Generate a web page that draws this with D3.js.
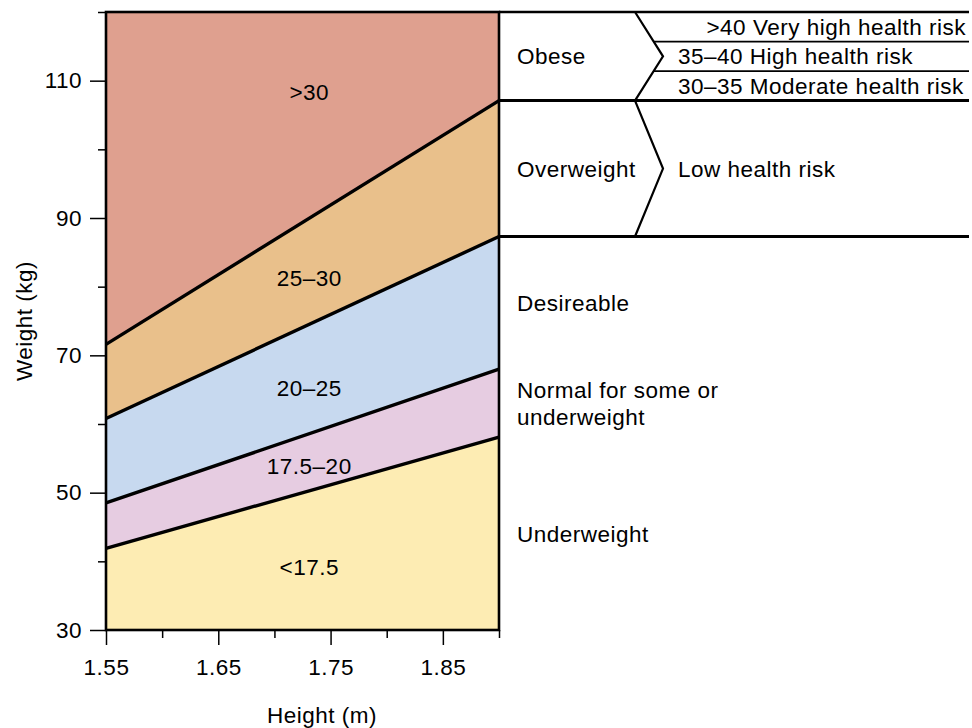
<!DOCTYPE html>
<html>
<head>
<meta charset="utf-8">
<script src="https://cdn.jsdelivr.net/npm/d3@7"></script>
<style>
  html, body { margin: 0; padding: 0; background: #fff; }
  svg { display: block; font-family: "Liberation Sans", Arial, Helvetica, sans-serif; }
  svg text { letter-spacing: 0.5px; }
</style>
</head>
<body>
<svg id="chart" width="972" height="728"></svg>
<script>
// Height / weight chart with BMI bands
const heightDomain = [1.55, 1.90];
const weightDomain = [30, 120];

const xMajorTicks = [1.55, 1.65, 1.75, 1.85];
const xMinorTicks = [1.60, 1.70, 1.80, 1.90];
const yMajorTicks = [30, 50, 70, 90, 110];
const yMinorTicks = [40, 60, 80, 100, 120];

// BMI cut-offs and the weight (kg) each line passes through at the two ends of the height range
const cutoffBMI   = [17.5, 20, 25, 30];
const cutoffAtMin = [41.9, 48.5, 60.8, 71.6];
const cutoffAtMax = [58.1, 68.0, 87.3, 107.1];

// Bands from lightest to heaviest
const bandLabels = ["<17.5", "17.5\u201320", "20\u201325", "25\u201330", ">30"];
const bandColors = ["#fdecb3", "#e6cce1", "#c7d9ef", "#e9c08b", "#dfa08f"];
const bandLabelKg = [39.2, 53.9, 65.3, 81.3, 108.3];

// Descriptions for each band, and health risk for the heavier ones
const categories = [["Underweight"], ["Normal for some or", "underweight"], ["Desireable"], ["Overweight"], ["Obese"]];
const overweightRisk = "Low health risk";
const obeseRisk = [">40 Very high health risk", "35\u201340 High health risk", "30\u201335 Moderate health risk"];

const svg = d3.select("#chart");
const plot = { left: 106, right: 499, top: 12, bottom: 630 };
const tableRight = 969, chevronX = 635, chevronTip = 663, catTextX = 517, riskTextX = 678;
const fontSize = 22.5;

const x = d3.scaleLinear().domain(heightDomain).range([plot.left, plot.right]);
const y = d3.scaleLinear().domain(weightDomain).range([plot.bottom, plot.top]);

// Lower / upper edges of each band at both ends
const edgesMin = [weightDomain[0], ...cutoffAtMin, weightDomain[1]];
const edgesMax = [weightDomain[0], ...cutoffAtMax, weightDomain[1]];

const bands = bandLabels.map((label, i) => ({
  label,
  color: bandColors[i],
  pts: [
    [heightDomain[0], edgesMin[i]],
    [heightDomain[1], edgesMax[i]],
    [heightDomain[1], edgesMax[i + 1]],
    [heightDomain[0], edgesMin[i + 1]]
  ]
}));

const line = d3.line().x(d => x(d[0])).y(d => y(d[1]));

svg.append("g").selectAll("path")
  .data(bands)
  .join("path")
  .attr("d", d => line(d.pts) + "Z")
  .attr("fill", d => d.color)
  .attr("stroke", "none");

// BMI cut-off lines
svg.append("g").selectAll("path")
  .data(cutoffBMI.map((b, i) => [[heightDomain[0], cutoffAtMin[i]], [heightDomain[1], cutoffAtMax[i]]]))
  .join("path")
  .attr("d", line)
  .attr("fill", "none")
  .attr("stroke", "#000")
  .attr("stroke-width", 3.4);

// Band labels
const labelHeight = 1.731;
svg.append("g").selectAll("text")
  .data(bands)
  .join("text")
  .attr("x", x(labelHeight))
  .attr("y", (d, i) => y(bandLabelKg[i]) + fontSize * 0.36)
  .attr("text-anchor", "middle")
  .attr("font-size", fontSize)
  .attr("fill", "#000")
  .text(d => d.label);

// Plot frame
svg.append("rect")
  .attr("x", plot.left).attr("y", plot.top)
  .attr("width", plot.right - plot.left).attr("height", plot.bottom - plot.top)
  .attr("fill", "none").attr("stroke", "#000").attr("stroke-width", 2.6);

// Axes
function styleAxis(g) {
  g.select(".domain").remove();
  g.selectAll(".tick line").attr("stroke", "#000").attr("stroke-width", 1.5);
  g.selectAll(".tick text").attr("font-size", fontSize).attr("fill", "#000")
    .attr("font-family", "Liberation Sans, Arial, sans-serif");
}

svg.append("g")
  .attr("transform", `translate(0,${plot.bottom})`)
  .call(d3.axisBottom(x).tickValues(xMajorTicks).tickSize(15).tickPadding(14).tickFormat(d3.format(".2f")))
  .call(styleAxis);
svg.append("g")
  .attr("transform", `translate(0,${plot.bottom})`)
  .call(d3.axisBottom(x).tickValues(xMinorTicks).tickSize(8).tickFormat(""))
  .call(styleAxis);

svg.append("g")
  .attr("transform", `translate(${plot.left},0)`)
  .call(d3.axisLeft(y).tickValues(yMajorTicks).tickSize(16).tickPadding(8).tickFormat(d3.format("d")))
  .call(styleAxis);
svg.append("g")
  .attr("transform", `translate(${plot.left},0)`)
  .call(d3.axisLeft(y).tickValues(yMinorTicks).tickSize(8).tickFormat(""))
  .call(styleAxis);

// Axis titles
svg.append("text")
  .attr("x", 322).attr("y", 723)
  .attr("text-anchor", "middle").attr("font-size", fontSize)
  .text("Height (m)");
svg.append("text")
  .attr("transform", `translate(32,${321}) rotate(-90)`)
  .attr("text-anchor", "middle").attr("font-size", fontSize)
  .text("Weight (kg)");

// Right-hand table
const table = svg.append("g");
const yTop = y(weightDomain[1]);
const yObese = y(cutoffAtMax[3]);
const yOver = y(cutoffAtMax[2]);

table.append("line")
  .attr("x1", plot.right).attr("x2", tableRight)
  .attr("y1", yTop).attr("y2", yTop)
  .attr("stroke", "#000").attr("stroke-width", 2.3);
[yObese, yOver].forEach(v => {
  table.append("line")
    .attr("x1", plot.right).attr("x2", tableRight)
    .attr("y1", v).attr("y2", v)
    .attr("stroke", "#000").attr("stroke-width", 3);
});

// Chevrons joining each category to its risk column
[[yTop, yObese], [yObese, yOver]].forEach(([a, b]) => {
  table.append("path")
    .attr("d", `M${chevronX},${a}L${chevronTip},${(a + b) / 2}L${chevronX},${b}`)
    .attr("fill", "none").attr("stroke", "#000").attr("stroke-width", 2.2);
});

// Obese sub-rows split into thirds
const obeseStep = (weightDomain[1] - cutoffAtMax[3]) / 3;
const subEdges = [cutoffAtMax[3] + obeseStep, cutoffAtMax[3] + 2 * obeseStep];
subEdges.forEach(kg => {
  const yy = y(kg);
  const frac = (yy - yTop) / (yObese - yTop);
  const xStart = chevronX + (chevronTip - chevronX) * (1 - Math.abs(frac - 0.5) * 2);
  table.append("line")
    .attr("x1", xStart).attr("x2", tableRight)
    .attr("y1", yy).attr("y2", yy)
    .attr("stroke", "#000").attr("stroke-width", 1.7);
});

// Category names centred in their weight range at the tallest height
const lineGap = 27;
categories.forEach((lines, i) => {
  const mid = (y(edgesMax[i]) + y(edgesMax[i + 1])) / 2;
  const t = table.append("text")
    .attr("x", catTextX)
    .attr("font-size", fontSize);
  lines.forEach((s, j) => {
    t.append("tspan")
      .attr("x", catTextX)
      .attr("y", mid + fontSize * 0.36 + (j - (lines.length - 1) / 2) * lineGap)
      .text(s);
  });
});

// Risk labels
table.append("text")
  .attr("x", riskTextX)
  .attr("y", (yObese + yOver) / 2 + fontSize * 0.36)
  .attr("font-size", fontSize)
  .text(overweightRisk);

const obeseRows = [weightDomain[1], subEdges[1], subEdges[0], cutoffAtMax[3]];
obeseRisk.forEach((s, i) => {
  const mid = (y(obeseRows[i]) + y(obeseRows[i + 1])) / 2;
  table.append("text")
    .attr("x", i === 0 ? tableRight - 3 : riskTextX)
    .attr("text-anchor", i === 0 ? "end" : "start")
    .attr("y", mid + fontSize * 0.36)
    .attr("font-size", fontSize)
    .text(s);
});
</script>
</body>
</html>
